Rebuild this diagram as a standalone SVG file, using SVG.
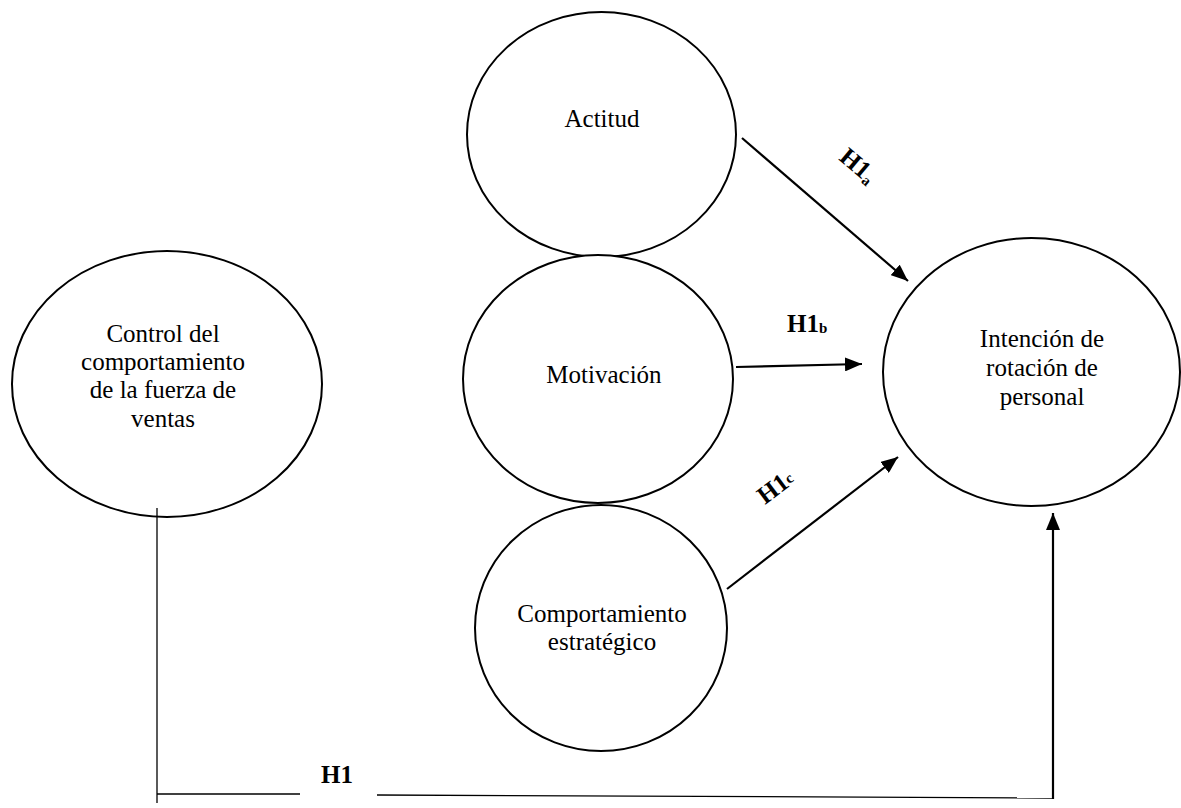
<svg xmlns="http://www.w3.org/2000/svg" width="1181" height="808" viewBox="0 0 1181 808">
<style>
.node ellipse{fill:#fff;stroke:#000;stroke-width:2}
.lbl{font-family:"Liberation Serif","Times New Roman",serif;font-size:25px;fill:#000;text-anchor:middle}
.h{font-family:"Liberation Serif","Times New Roman",serif;font-size:25px;font-weight:bold;fill:#000}
.sub{font-size:15px}
.arrow{stroke:#000;stroke-width:2.2;fill:none}
.thin{stroke:#000;stroke-width:1.3;fill:none}
</style>
<defs>
<marker id="ah" viewBox="0 0 17 14" refX="17" refY="7" markerWidth="17" markerHeight="14" markerUnits="userSpaceOnUse" orient="auto">
<path d="M0,0 L17,7 L0,14 z" fill="#000"/>
</marker>
</defs>
<rect width="1181" height="808" fill="#fff"/>
<g id="actitud" class="node">
<ellipse cx="601.5" cy="134.5" rx="134.5" ry="122.5"/>
<text class="lbl" x="602" y="127">Actitud</text>
</g>
<g id="motivacion" class="node">
<ellipse cx="598" cy="379" rx="135" ry="124"/>
<text class="lbl" x="604" y="383">Motivación</text>
</g>
<g id="comportamiento" class="node">
<ellipse cx="601" cy="628" rx="126" ry="123"/>
<text class="lbl" x="602" y="622">Comportamiento</text>
<text class="lbl" x="602" y="650">estratégico</text>
</g>
<g id="control" class="node">
<ellipse cx="167" cy="384" rx="155" ry="133"/>
<text class="lbl" x="163" y="342">Control del</text>
<text class="lbl" x="163" y="370">comportamiento</text>
<text class="lbl" x="163" y="398">de la fuerza de</text>
<text class="lbl" x="163" y="427">ventas</text>
</g>
<g id="intencion" class="node">
<ellipse cx="1031.5" cy="372" rx="148.5" ry="134"/>
<text class="lbl" x="1042" y="347">Intención de</text>
<text class="lbl" x="1042" y="376">rotación de</text>
<text class="lbl" x="1042" y="405">personal</text>
</g>
<g id="connectors">
<line class="arrow" x1="742" y1="138" x2="908" y2="281" marker-end="url(#ah)"/>
<line class="arrow" x1="736" y1="367" x2="862" y2="364" marker-end="url(#ah)"/>
<line class="arrow" x1="727" y1="589" x2="898" y2="457" marker-end="url(#ah)"/>
<line class="thin" x1="157" y1="508" x2="157" y2="803"/>
<line class="thin" x1="157" y1="794" x2="300" y2="794"/>
<line class="thin" x1="377" y1="795" x2="1053" y2="798"/>
<line class="arrow" x1="1053" y1="799" x2="1053" y2="513" marker-end="url(#ah)"/>
</g>
<g id="labels">
<text class="h" transform="translate(857,166) rotate(40)" x="-19" y="7">H1<tspan class="sub" dy="3">a</tspan></text>
<text class="h" x="787" y="332">H1<tspan class="sub" dy="1">b</tspan></text>
<text class="h" transform="translate(776,488) rotate(-37)" x="-19" y="7">H1<tspan class="sub" dy="-2">c</tspan></text>
<text class="h" x="337" y="783" text-anchor="middle">H1</text>
</g>
</svg>
